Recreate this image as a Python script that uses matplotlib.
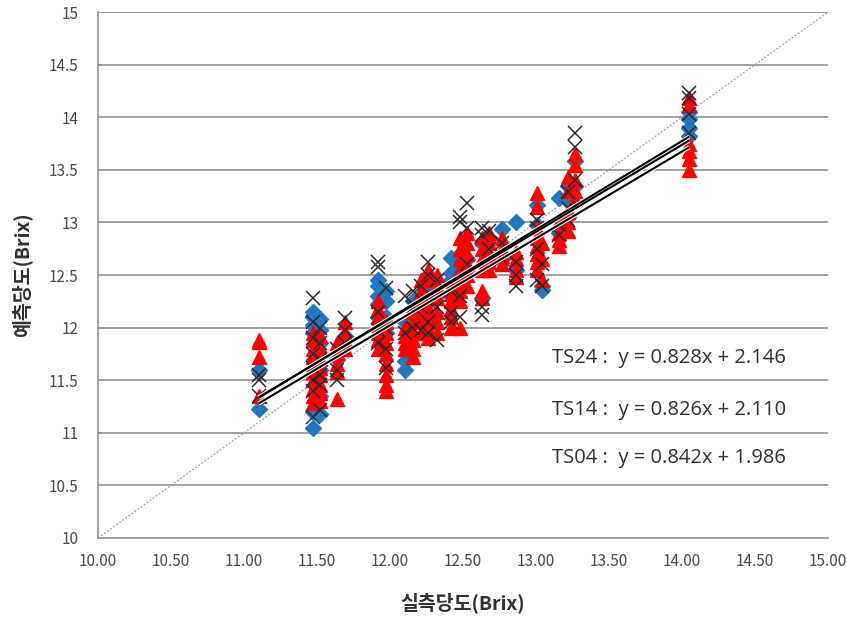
import matplotlib
matplotlib.use("Agg")
import matplotlib.pyplot as plt
import numpy as np

plt.rcParams['font.family'] = ['Noto Sans CJK KR', 'DejaVu Sans']

# Measured (actual) vs predicted Brix, grouped by measured value, for three models
ts24_x = [11.10, 11.10,
          11.47, 11.47, 11.47, 11.47, 11.47, 11.47, 11.47,
          11.52, 11.52, 11.52, 11.52, 11.52, 11.52,
          11.64, 11.69,
          11.92, 11.92, 11.92, 11.92, 11.92,
          11.97, 11.97, 11.97, 11.97,
          12.10, 12.10, 12.10, 12.16, 12.16, 12.21, 12.26, 12.26, 12.32,
          12.42, 12.42, 12.42, 12.48, 12.48, 12.48, 12.53, 12.53,
          12.63, 12.63, 12.68, 12.77, 12.77, 12.86, 12.86,
          13.01, 13.01, 13.04, 13.04, 13.16, 13.16, 13.16,
          13.22, 13.22, 13.22, 13.27, 13.27,
          14.05, 14.05, 14.05, 14.05]
ts24_y = [11.60, 11.23,
          12.15, 12.10, 12.02, 11.95, 11.55, 11.20, 11.05,
          12.08, 11.98, 11.85, 11.60, 11.35, 11.18,
          11.70, 11.92,
          12.45, 12.40, 12.30, 12.22, 12.10,
          12.35, 12.25, 12.10, 11.95,
          11.60, 11.68, 12.05, 12.25, 12.10, 12.30, 12.50, 12.35, 12.30,
          12.66, 12.52, 12.45, 12.70, 12.58, 12.40, 12.65, 12.50,
          12.80, 12.28, 12.85, 12.94, 12.65, 13.00, 12.55,
          13.17, 12.98, 12.36, 12.40, 13.23, 12.95, 12.90,
          13.35, 13.20, 13.05, 13.58, 13.35,
          14.05, 13.98, 13.90, 13.82]

ts14_x = [11.10, 11.10, 11.10, 11.10,
          11.47, 11.47, 11.47, 11.47, 11.47, 11.47, 11.47, 11.47, 11.47, 11.47,
          11.52, 11.52, 11.52, 11.52, 11.52, 11.52, 11.52, 11.52,
          11.64, 11.64, 11.64, 11.64, 11.64,
          11.69, 11.69, 11.69, 11.69,
          11.92, 11.92, 11.92, 11.92, 11.92, 11.92, 11.92,
          11.97, 11.97, 11.97, 11.97, 11.97, 11.97, 11.97, 11.97,
          12.10, 12.10, 12.10, 12.10,
          12.16, 12.16, 12.16, 12.16, 12.16, 12.16,
          12.21, 12.21, 12.21, 12.21, 12.21, 12.21,
          12.26, 12.26, 12.26, 12.26, 12.26, 12.26, 12.26,
          12.32, 12.32, 12.32, 12.32, 12.32, 12.32,
          12.42, 12.42, 12.42, 12.42, 12.42, 12.42,
          12.48, 12.48, 12.48, 12.48, 12.48, 12.48, 12.48, 12.48,
          12.53, 12.53, 12.53, 12.53, 12.53, 12.53,
          12.63, 12.63, 12.63, 12.63, 12.63, 12.63,
          12.68, 12.68, 12.68, 12.68, 12.68,
          12.77, 12.77, 12.77, 12.77,
          12.86, 12.86, 12.86, 12.86,
          13.01, 13.01, 13.01, 13.01, 13.01, 13.01, 13.01, 13.01,
          13.04, 13.04, 13.04,
          13.16, 13.16, 13.16, 13.16,
          13.22, 13.22, 13.22, 13.22, 13.22,
          13.27, 13.27, 13.27, 13.27, 13.27,
          14.05, 14.05, 14.05, 14.05, 14.05, 14.05]
ts14_y = [11.88, 11.86, 11.72, 11.35,
          11.95, 11.88, 11.80, 11.72, 11.65, 11.58, 11.50, 11.42, 11.35, 11.28,
          11.92, 11.82, 11.70, 11.62, 11.55, 11.45, 11.38, 11.30,
          11.85, 11.75, 11.65, 11.58, 11.32,
          12.05, 11.95, 11.88, 11.80,
          12.25, 12.18, 12.10, 12.02, 11.95, 11.88, 11.80,
          12.05, 11.95, 11.85, 11.75, 11.65, 11.55, 11.45, 11.40,
          11.92, 11.85, 11.80, 12.00,
          12.15, 12.05, 11.95, 11.88, 11.80, 11.72,
          12.45, 12.35, 12.25, 12.15, 12.05, 11.95,
          12.55, 12.45, 12.30, 12.20, 12.10, 12.00, 11.90,
          12.50, 12.40, 12.28, 12.15, 12.05, 11.95,
          12.40, 12.32, 12.25, 12.18, 12.10, 12.00,
          12.85, 12.75, 12.65, 12.55, 12.45, 12.35, 12.25, 12.00,
          12.90, 12.80, 12.70, 12.60, 12.50, 12.40,
          12.85, 12.75, 12.65, 12.55, 12.35, 12.28,
          12.90, 12.80, 12.70, 12.62, 12.55,
          12.85, 12.75, 12.68, 12.60,
          12.72, 12.65, 12.55, 12.48,
          13.28, 13.15, 12.95, 12.85, 12.78, 12.70, 12.62, 12.55,
          12.45, 12.65, 12.80,
          12.83, 12.78, 12.90, 13.00,
          13.43, 13.30, 13.10, 13.00, 12.92,
          13.65, 13.55, 13.40, 13.30, 13.22,
          14.18, 14.12, 13.75, 13.68, 13.60, 13.50]

ts04_x = [11.10, 11.10, 11.10,
          11.47, 11.47, 11.47, 11.47, 11.47, 11.47, 11.47, 11.47,
          11.52, 11.52, 11.52, 11.52, 11.52, 11.52,
          11.64, 11.64, 11.64, 11.69, 11.69, 11.69,
          11.92, 11.92, 11.92, 11.92, 11.92,
          11.97, 11.97, 11.97, 11.97,
          12.10, 12.10, 12.16, 12.16, 12.16,
          12.21, 12.21, 12.21,
          12.26, 12.26, 12.26, 12.26, 12.26,
          12.32, 12.32, 12.32,
          12.42, 12.42, 12.42,
          12.48, 12.48, 12.48, 12.48,
          12.53, 12.53, 12.53,
          12.63, 12.63, 12.63, 12.63,
          12.68, 12.68, 12.77, 12.77, 12.86, 12.86, 12.86,
          13.01, 13.01, 13.01, 13.01, 13.04, 13.04,
          13.16, 13.16, 13.22, 13.22, 13.22,
          13.27, 13.27, 13.27,
          14.05, 14.05, 14.05, 14.05]
ts04_y = [11.55, 11.50, 11.35,
          12.28, 12.05, 11.90, 11.75, 11.62, 11.50, 11.40, 11.15,
          12.00, 11.85, 11.70, 11.55, 11.45, 11.22,
          11.80, 11.60, 11.50, 12.09, 11.98, 11.85,
          12.62, 12.58, 12.15, 11.98, 11.85,
          12.38, 12.00, 11.80, 11.62,
          12.30, 11.95, 12.35, 12.20, 12.00,
          12.40, 12.20, 11.98,
          12.62, 12.50, 12.25, 12.05, 11.95,
          12.45, 12.20, 11.88,
          12.35, 12.14, 12.05,
          13.05, 13.00, 12.30, 12.10,
          13.18, 12.95, 12.60,
          12.95, 12.88, 12.20, 12.12,
          12.92, 12.75, 12.80, 12.65, 12.62, 12.50, 12.40,
          13.02, 12.95, 12.75, 12.45, 12.40, 12.60,
          12.98, 12.88, 13.29, 13.14, 13.02,
          13.85, 13.72, 13.40,
          14.23, 14.18, 14.03, 13.85]

# Linear fits (slope, intercept) and their labels
fit_names = ['TS24', 'TS14', 'TS04']
fit_slopes = [0.828, 0.826, 0.842]
fit_intercepts = [2.146, 2.110, 1.986]
fit_range = [11.10, 14.05]

x_ticks = [10.0, 10.5, 11.0, 11.5, 12.0, 12.5, 13.0, 13.5, 14.0, 14.5, 15.0]
y_ticks = [10.0, 10.5, 11.0, 11.5, 12.0, 12.5, 13.0, 13.5, 14.0, 14.5, 15.0]

fig = plt.figure(figsize=(8.47, 6.36), dpi=100)
ax = fig.add_axes([0.1157, 0.1541, 0.8619, 0.8270])

grid_col = '#9a9a9a'
for yv in y_ticks[1:]:
    ax.axhline(yv, color=grid_col, lw=1.3, zorder=1)

# 1:1 reference line
ax.plot([10, 15], [10, 15], linestyle=(0, (1.5, 1.5)), color='#a0a0a0', lw=0.9, zorder=2)

ax.plot(ts24_x, ts24_y, linestyle='none', marker='D', ms=8.5, color='#2277c0',
        mec='#2277c0', zorder=3)
ax.plot(ts14_x, ts14_y, linestyle='none', marker='^', ms=10.5, color='#ff0000',
        mec='#ff0000', zorder=4)
ax.plot(ts04_x, ts04_y, linestyle='none', marker='x', ms=10, mew=1.1, color='#2a2a2a',
        zorder=5)

xs = np.array(fit_range)
for a, b in zip(fit_slopes, fit_intercepts):
    ax.plot(xs, a * xs + b, color='white', lw=3.0, zorder=6, solid_capstyle='butt')
for a, b in zip(fit_slopes, fit_intercepts):
    ax.plot(xs, a * xs + b, color='black', lw=1.5, zorder=7, solid_capstyle='butt')

label_y = [11.71, 11.22, 10.76]
for name, a, b, ly in zip(fit_names, fit_slopes, fit_intercepts, label_y):
    ax.text(13.11, ly, f"{name} :  y = {a:.3f}x + {b:.3f}", fontsize=14.5,
            color='#303030', va='center', ha='left', zorder=8,
            family=['Open Sans', 'DejaVu Sans'])

ax.set_xlim(10, 15)
ax.set_ylim(10, 15)
ax.set_xticks(x_ticks)
ax.set_xticklabels([f"{v:.2f}" for v in x_ticks])
ax.set_yticks(y_ticks)
ax.set_yticklabels([f"{v:g}" for v in y_ticks])
ax.tick_params(axis='both', length=0, labelsize=11, labelcolor='#4a4a4a')
ax.tick_params(axis='x', pad=11)
ax.tick_params(axis='y', pad=14)

for side in ['top', 'right']:
    ax.spines[side].set_visible(False)
for side in ['left', 'bottom']:
    ax.spines[side].set_color(grid_col)
    ax.spines[side].set_linewidth(1.3)

ax.set_xlabel('실측당도(Brix)', fontsize=14, fontweight='bold', color='#303030', labelpad=16)
ax.set_ylabel('예측당도(Brix)', fontsize=14, fontweight='bold', color='#303030', labelpad=12)

fig.savefig('out.png', dpi=100)
